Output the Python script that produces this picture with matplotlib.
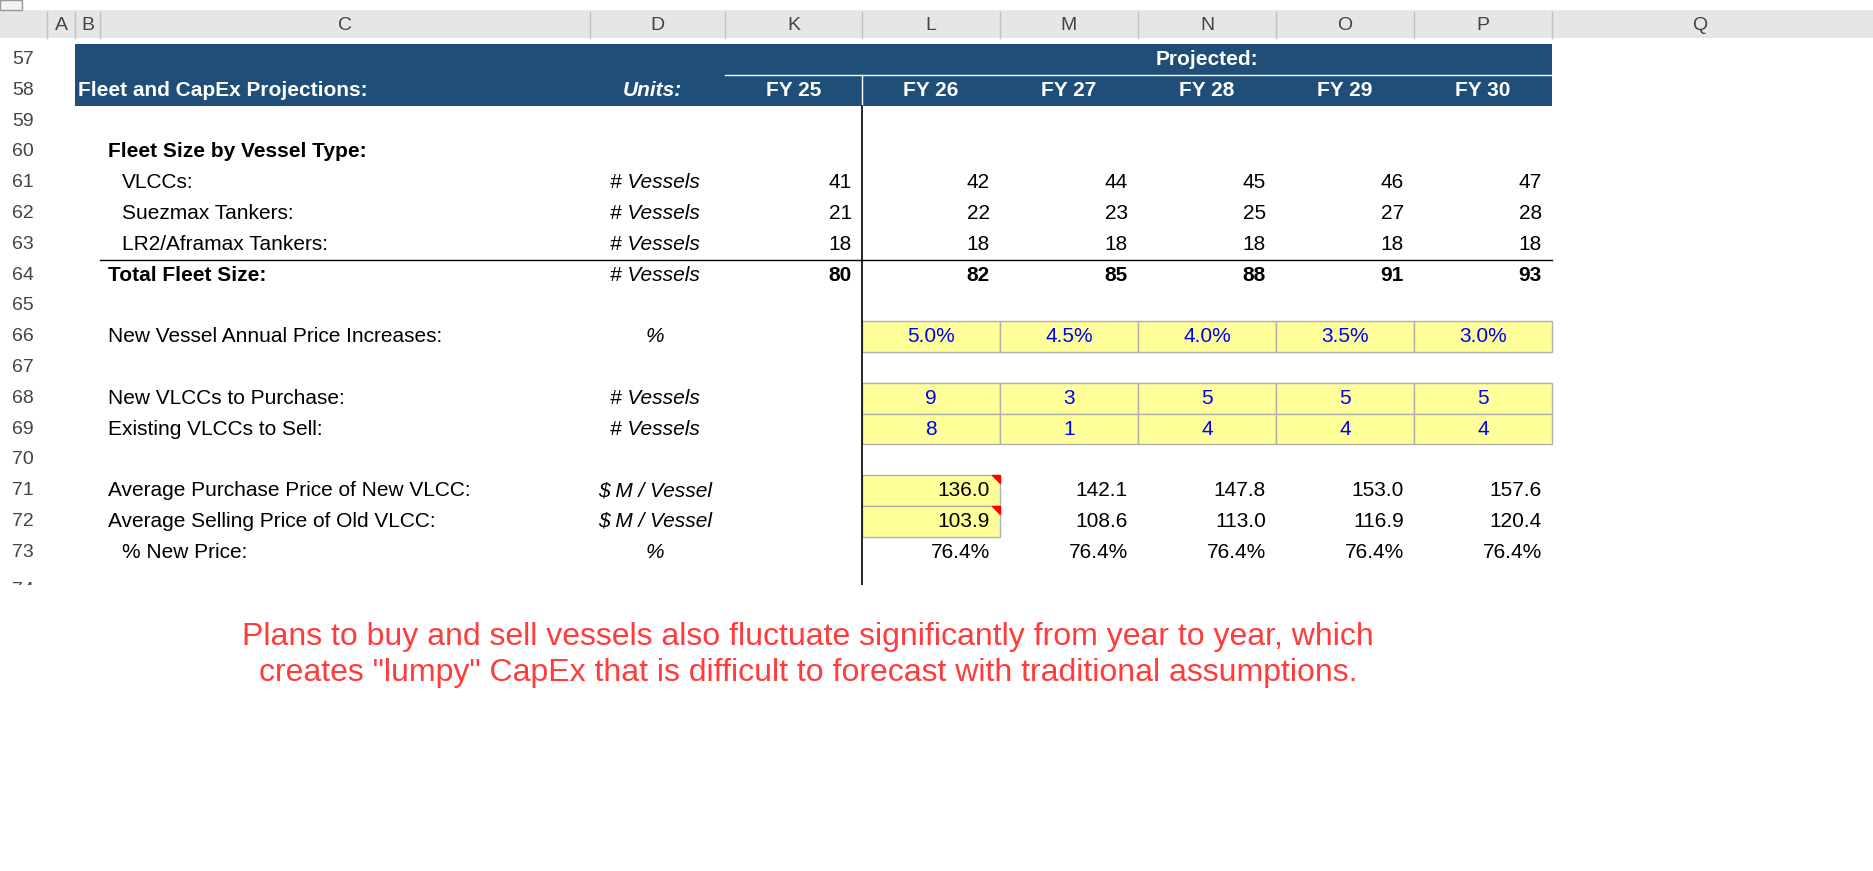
import matplotlib.pyplot as plt
from matplotlib.patches import Rectangle

plt.rcParams['font.family'] = ['Liberation Sans', 'DejaVu Sans']

col_letters = ['A', 'B', 'C', 'D', 'K', 'L', 'M', 'N', 'O', 'P']
col_edges = [47, 75, 100, 590, 725, 862, 1000, 1138, 1276, 1414, 1552]
row_nums = list(range(57, 75))
years = ['FY 25', 'FY 26', 'FY 27', 'FY 28', 'FY 29', 'FY 30']

vlcc = [41, 42, 44, 45, 46, 47]
suezmax = [21, 22, 23, 25, 27, 28]
lr2 = [18, 18, 18, 18, 18, 18]
total = [80, 82, 85, 88, 91, 93]
price_inc = ['5.0%', '4.5%', '4.0%', '3.5%', '3.0%']
new_vlcc = [9, 3, 5, 5, 5]
sell_vlcc = [8, 1, 4, 4, 4]
buy_price = ['136.0', '142.1', '147.8', '153.0', '157.6']
sell_price = ['103.9', '108.6', '113.0', '116.9', '120.4']
pct_new = ['76.4%'] * 5

W, H = 1873, 871
fig = plt.figure(figsize=(W / 100, H / 100), dpi=100)
ax = fig.add_axes([0, 0, 1, 1])
ax.set_xlim(0, W)
ax.set_ylim(H, 0)
ax.axis('off')

top, rh = 44, 30.8
def ry(r):  # center y of row r
    return top + (r - 57) * rh + rh / 2

FS = 15
blue = '#1F4E79'
# column header strip
ax.add_patch(Rectangle((0, 10), 1873, 28, color='#E6E6E6', lw=0))
ax.add_patch(Rectangle((0, 0), 22, 10, fc='#F3F3F3', ec='#999999', lw=1))
for i, c in enumerate(col_letters):
    x = (col_edges[i] + col_edges[i + 1]) / 2
    ax.text(x, 25, c, ha='center', va='center', fontsize=14, color='#444444')
    ax.plot([col_edges[i], col_edges[i]], [12, 38], color='#C0C0C0', lw=1)
ax.plot([1552, 1552], [12, 38], color='#C0C0C0', lw=1)
ax.text(1700, 25, 'Q', ha='center', va='center', fontsize=14, color='#444444')

# row numbers
for r in row_nums[:-1]:
    ax.text(23, ry(r), str(r), ha='center', va='center', fontsize=14, color='#444444')
ax.text(23, 590, '74', ha='center', va='center', fontsize=14, color='#444444')
ax.add_patch(Rectangle((0, 585), W, H - 585, color='white', lw=0, zorder=3))

# blue header
ax.add_patch(Rectangle((75, top), 1477, 2 * rh, color=blue, lw=0))
ax.plot([725, 1552], [top + rh, top + rh], color='white', lw=1)
ax.plot([862, 862], [top + rh, top + 2 * rh], color='white', lw=1)
ax.text(1207, ry(57), 'Projected:', ha='center', va='center', fontsize=FS, color='white', weight='bold')
ax.text(78, ry(58), 'Fleet and CapEx Projections:', ha='left', va='center', fontsize=FS, color='white', weight='bold')
ax.text(682, ry(58), 'Units:', ha='right', va='center', fontsize=FS, color='white', weight='bold', style='italic')
centers = [(col_edges[i] + col_edges[i + 1]) / 2 for i in range(4, 10)]
for x, yr in zip(centers, years):
    ax.text(x, ry(58), yr, ha='center', va='center', fontsize=FS, color='white', weight='bold')

# divider line
ax.plot([862, 862], [top + 2 * rh, 585], color='black', lw=1.2)

rights = [e - 10 for e in col_edges[5:11]]
def num_row(r, vals, bold=False):
    for x, v in zip(rights, vals):
        ax.text(x, ry(r), str(v), ha='right', va='center', fontsize=FS, weight='bold' if bold else 'normal')

def label(r, text, x=108, bold=False, unit=None):
    ax.text(x, ry(r), text, ha='left', va='center', fontsize=FS, weight='bold' if bold else 'normal')
    if unit:
        ax.text(655, ry(r), unit, ha='center', va='center', fontsize=FS, style='italic')

label(60, 'Fleet Size by Vessel Type:', bold=True)
label(61, 'VLCCs:', x=122, unit='# Vessels'); num_row(61, vlcc)
label(62, 'Suezmax Tankers:', x=122, unit='# Vessels'); num_row(62, suezmax)
label(63, 'LR2/Aframax Tankers:', x=122, unit='# Vessels'); num_row(63, lr2)
ax.plot([100, 1552], [top + 7 * rh, top + 7 * rh], color='black', lw=1)
label(64, 'Total Fleet Size:', bold=True, unit='# Vessels'); num_row(64, total, bold=True)

def yellow(r, n):
    for i in range(n):
        ax.add_patch(Rectangle((col_edges[5 + i], top + (r - 57) * rh), col_edges[6 + i] - col_edges[5 + i], rh,
                               fc='#FFFF99', ec='#B0B0B0', lw=1))

yellow(66, 5)
label(66, 'New Vessel Annual Price Increases:', unit='%')
for x, v in zip(centers[1:], price_inc):
    ax.text(x, ry(66), v, ha='center', va='center', fontsize=FS, color='#0000FF')
yellow(68, 5); yellow(69, 5)
label(68, 'New VLCCs to Purchase:', unit='# Vessels')
label(69, 'Existing VLCCs to Sell:', unit='# Vessels')
for x, a, b in zip(centers[1:], new_vlcc, sell_vlcc):
    ax.text(x, ry(68), str(a), ha='center', va='center', fontsize=FS, color='#0000FF')
    ax.text(x, ry(69), str(b), ha='center', va='center', fontsize=FS, color='#0000FF')
yellow(71, 1); yellow(72, 1)
for r in (71, 72):
    yt = top + (r - 57) * rh
    ax.fill([992, 1000, 1000], [yt, yt, yt + 8], color='red', zorder=4)
label(71, 'Average Purchase Price of New VLCC:', unit='$ M / Vessel')
label(72, 'Average Selling Price of Old VLCC:', unit='$ M / Vessel')
label(73, '% New Price:', x=122, unit='%')
for x, a, b, c in zip(rights[1:], buy_price, sell_price, pct_new):
    ax.text(x, ry(71), a, ha='right', va='center', fontsize=FS)
    ax.text(x, ry(72), b, ha='right', va='center', fontsize=FS)
    ax.text(x, ry(73), c, ha='right', va='center', fontsize=FS)

ax.text(808, 655, 'Plans to buy and sell vessels also fluctuate significantly from year to year, which\n'
        'creates "lumpy" CapEx that is difficult to forecast with traditional assumptions.',
        ha='center', va='center', fontsize=23, color='#FF3B3B', linespacing=1.3, zorder=5)

fig.savefig('out.png', dpi=100)
